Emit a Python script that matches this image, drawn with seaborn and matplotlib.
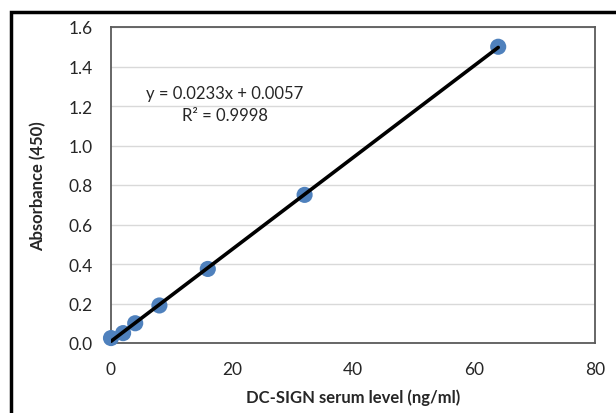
import matplotlib
matplotlib.use("Agg")
import matplotlib.pyplot as plt
import seaborn as sns
import numpy as np
from matplotlib.patches import Rectangle

# standard curve data
conc = [0, 2, 4, 8, 16, 32, 64]
absorb = [0.025, 0.05, 0.10, 0.19, 0.375, 0.75, 1.50]
eq_text = "y = 0.0233x + 0.0057"
r2_text = "R² = 0.9998"
x_ticks = [0, 20, 40, 60, 80]
y_ticks = [0.0, 0.2, 0.4, 0.6, 0.8, 1.0, 1.2, 1.4, 1.6]

sns.set_style("white")
plt.rcParams['font.family'] = ['Lato', 'DejaVu Sans']

fig = plt.figure(figsize=(6.16, 4.14), dpi=100)
W, H = 616, 414
ax = fig.add_axes([111 / W, 1 - 344 / H, (595 - 111) / W, (344 - 28) / H])

sns.regplot(x=conc, y=absorb, ci=None, ax=ax,
            scatter_kws=dict(s=135, color='#4f81bd', edgecolor='none', alpha=1,
                             zorder=3, clip_on=False),
            line_kws=dict(color='black', lw=2.6, zorder=4))

ax.set_xlim(0, 80)
ax.set_ylim(0, 1.6)
ax.set_xticks(x_ticks)
ax.set_yticks(y_ticks)
ax.set_yticklabels([f"{v:.1f}" for v in y_ticks])
ax.tick_params(axis='both', labelsize=12.5, length=0)
ax.tick_params(axis='y', pad=13)
ax.tick_params(axis='x', pad=13)
ax.grid(axis='y', color='#d9d9d9', lw=1)
ax.set_axisbelow(True)
for s in ax.spines.values():
    s.set_color('#5a5a5a')
    s.set_linewidth(1.3)
    s.set_visible(True)

ax.set_xlabel("DC-SIGN serum level (ng/ml)", fontsize=12, fontweight='bold', labelpad=8)
ax.set_ylabel("Absorbance (450)", fontsize=12, fontweight='bold', labelpad=16)

ax.text(18.8, 1.265, eq_text, ha='center', va='center', fontsize=12)
ax.text(18.8, 1.155, r2_text, ha='center', va='center', fontsize=12)

# outer chart frame
fig.patches.append(Rectangle((11 / W, -0.05), 1.1, 1 - 13 / H + 0.05,
                             transform=fig.transFigure, fill=False,
                             edgecolor='black', lw=2.5))

fig.savefig("out.png", dpi=100)
